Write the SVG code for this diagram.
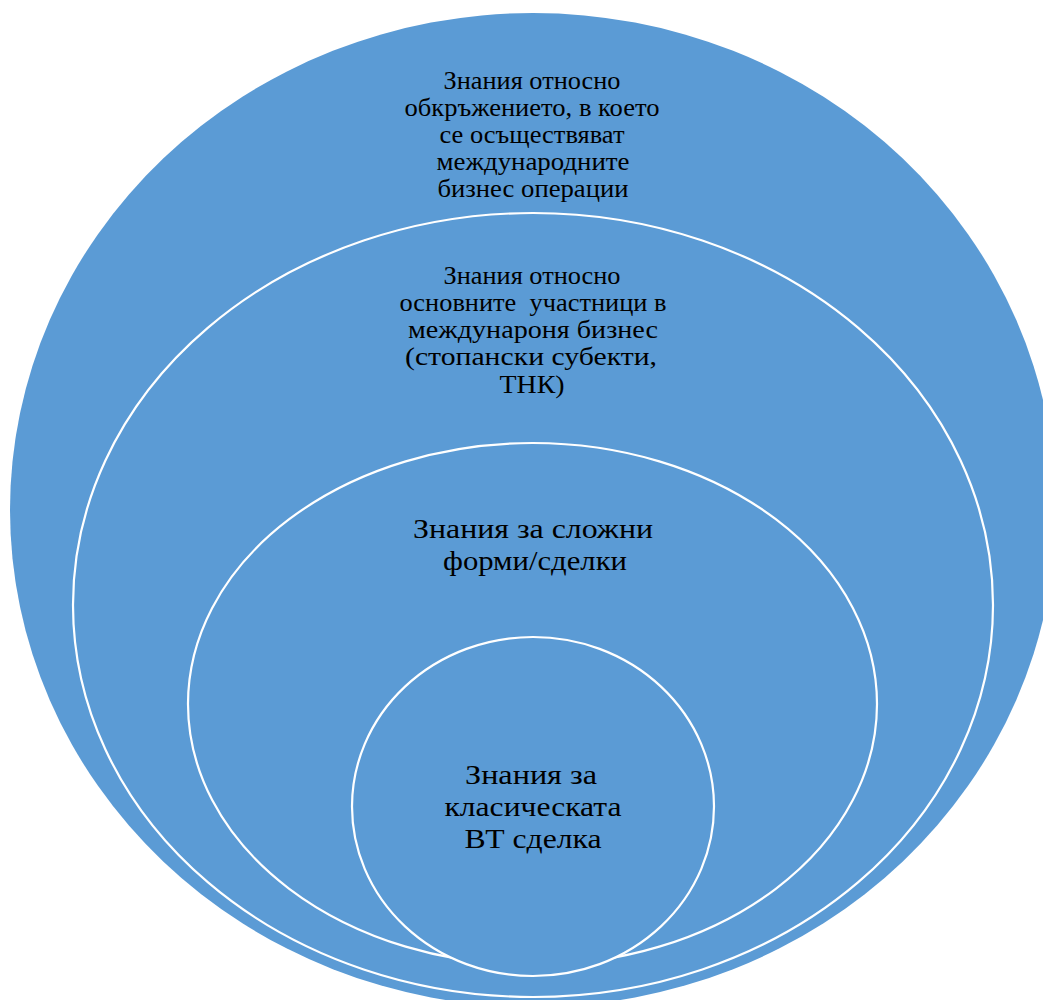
<svg xmlns="http://www.w3.org/2000/svg" width="1043" height="1000" viewBox="0 0 1043 1000">
<style>
.ring{fill:#5B9BD5;stroke:#FFFFFF;stroke-width:2.2}
.outer{fill:#5B9BD5;stroke:none}
.t{font-family:"Liberation Serif","Times New Roman",serif;fill:#000;text-anchor:middle}
.s{font-size:25px}
.l{font-size:28px}
</style>
<rect width="1043" height="1000" fill="#FFFFFF"/>
<g id="node-environment">
<ellipse class="outer" cx="533" cy="510" rx="523" ry="497"/>
<text class="t s"><tspan x="532" y="89" textLength="177" lengthAdjust="spacingAndGlyphs">Знания относно</tspan><tspan x="532" y="116" textLength="255" lengthAdjust="spacingAndGlyphs">обкръжението, в което</tspan><tspan x="532" y="143" textLength="185" lengthAdjust="spacingAndGlyphs">се осъществяват</tspan><tspan x="533" y="170" textLength="193" lengthAdjust="spacingAndGlyphs">международните</tspan><tspan x="533" y="197" textLength="191" lengthAdjust="spacingAndGlyphs">бизнес операции</tspan></text>
</g>
<g id="node-participants">
<ellipse class="ring" cx="533" cy="605" rx="460" ry="392"/>
<text class="t s"><tspan x="532" y="284" textLength="177" lengthAdjust="spacingAndGlyphs">Знания относно</tspan><tspan x="533" y="311" textLength="267" lengthAdjust="spacingAndGlyphs" xml:space="preserve">основните  участници в</tspan><tspan x="533" y="338" textLength="250" lengthAdjust="spacingAndGlyphs">междунароня бизнес</tspan><tspan x="531" y="365" textLength="252" lengthAdjust="spacingAndGlyphs">(стопански субекти,</tspan><tspan x="532" y="393" textLength="65" lengthAdjust="spacingAndGlyphs">ТНК)</tspan></text>
</g>
<g id="node-complex">
<ellipse class="ring" cx="532.5" cy="704" rx="344.5" ry="261"/>
<text class="t l"><tspan x="533" y="538" textLength="240" lengthAdjust="spacingAndGlyphs">Знания за сложни</tspan><tspan x="535" y="570" textLength="184" lengthAdjust="spacingAndGlyphs">форми/сделки</tspan></text>
</g>
<g id="node-classic">
<ellipse class="ring" cx="533" cy="806.5" rx="181" ry="169.5"/>
<text class="t l"><tspan x="531" y="784" textLength="132" lengthAdjust="spacingAndGlyphs">Знания за</tspan><tspan x="533" y="816" textLength="177" lengthAdjust="spacingAndGlyphs">класическата</tspan><tspan x="533" y="848" textLength="137" lengthAdjust="spacingAndGlyphs">ВТ сделка</tspan></text>
</g>
<g id="connectors"/>
</svg>
